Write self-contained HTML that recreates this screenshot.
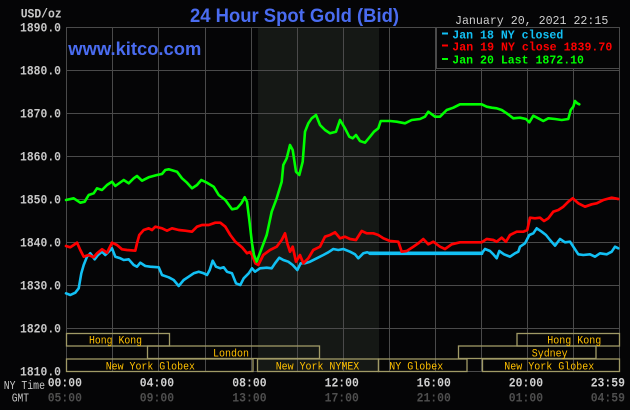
<!DOCTYPE html>
<html><head><meta charset="utf-8"><style>
html,body{margin:0;padding:0;background:#050506;}
svg{display:block;}
.m{font-family:"Liberation Mono",monospace;}
.s{font-family:"Liberation Sans",sans-serif;font-weight:bold;}
</style></head><body>
<svg width="630" height="410" viewBox="0 0 630 410" xmlns="http://www.w3.org/2000/svg">
<rect x="0" y="0" width="630" height="410" fill="#050506"/>
<!-- shaded NYMEX region -->
<rect x="258" y="27" width="121" height="345" fill="#151815"/>
<!-- grid -->
<g fill="#4a4a4a">
<rect x="66" y="27" width="1" height="345"/>
<rect x="112" y="27" width="1" height="345"/>
<rect x="158" y="27" width="1" height="345"/>
<rect x="205" y="27" width="1" height="345"/>
<rect x="251" y="27" width="1" height="345"/>
<rect x="297" y="27" width="1" height="345"/>
<rect x="343" y="27" width="1" height="345"/>
<rect x="389" y="27" width="1" height="345"/>
<rect x="435" y="27" width="1" height="345"/>
<rect x="481" y="27" width="1" height="345"/>
<rect x="527" y="27" width="1" height="345"/>
<rect x="573" y="27" width="1" height="345"/>
<rect x="619" y="27" width="1" height="345"/>
<rect x="66" y="27" width="554" height="1"/>
<rect x="66" y="70" width="554" height="1"/>
<rect x="66" y="113" width="554" height="1"/>
<rect x="66" y="156" width="554" height="1"/>
<rect x="66" y="199" width="554" height="1"/>
<rect x="66" y="242" width="554" height="1"/>
<rect x="66" y="285" width="554" height="1"/>
<rect x="66" y="328" width="554" height="1"/>
<rect x="66" y="371" width="554" height="1"/>
</g>
<!-- session boxes -->
<g fill="none" stroke="#a09a66" stroke-width="1.3">
<rect x="66.5" y="333.5" width="103" height="12.5"/>
<rect x="147.5" y="346" width="172" height="12.5"/>
<rect x="66.5" y="359" width="186.5" height="12.5"/>
<rect x="257.5" y="359" width="121" height="12.5"/>
<rect x="378.5" y="359" width="88.5" height="12.5"/>
<rect x="482.5" y="359" width="137" height="12.5"/>
<rect x="458.5" y="346" width="137.5" height="12.5"/>
<rect x="517" y="333.5" width="102.5" height="12.5"/>
</g>
<g class="m" fill="#ffc000" font-size="11">
<text x="89" y="343.3" textLength="53" lengthAdjust="spacingAndGlyphs">Hong Kong</text>
<text x="213" y="356.3" textLength="36" lengthAdjust="spacingAndGlyphs">London</text>
<text x="105.7" y="369.3" textLength="89.3" lengthAdjust="spacingAndGlyphs">New York Globex</text>
<text x="275.7" y="369.3" textLength="83.6" lengthAdjust="spacingAndGlyphs">New York NYMEX</text>
<text x="389.3" y="369.3" textLength="54" lengthAdjust="spacingAndGlyphs">NY Globex</text>
<text x="504.3" y="369.3" textLength="90" lengthAdjust="spacingAndGlyphs">New York Globex</text>
<text x="531.7" y="356.3" textLength="36" lengthAdjust="spacingAndGlyphs">Sydney</text>
<text x="547.3" y="343.3" textLength="54" lengthAdjust="spacingAndGlyphs">Hong Kong</text>
</g>
<!-- series -->
<g fill="none" stroke-linejoin="round" stroke-linecap="round">
<polyline stroke="#12c0f4" stroke-width="2.6" points="66,293.3 70.3,295 75.3,292.7 78.7,288.3 81.3,273.3 83.7,265 87,256.7 90.3,253.3 94.7,259.3 98,255 102,251.7 105.3,255 108.7,251.7 112,248.3 115.3,256.7 120.3,258.3 123.7,260 128.7,259.3 133.7,265 137,266.7 140.3,262.7 145.3,266 150.3,266.7 158.7,267.3 162,275 168.7,277.3 173.7,280 178.7,286 183.7,280 188.7,276.7 193.7,273.3 198.7,271.7 203.7,273.3 207,275 209.7,270 212.7,260.7 216,266.7 220.3,268.3 223.7,267.3 227,271.7 232,273.3 236,283.3 240.3,285 243.7,278.3 248.7,273.3 252,268.3 255,271.7 260,268.3 266.7,267.7 271.7,268.3 275,263.3 279.3,257.7 283.3,260 288.3,261.7 292.7,265 297.3,270 300.7,263.3 305,263.3 310,261.7 316.7,258.3 323.3,255 328.3,252.3 333.3,249 338.3,250 343.3,249 350,251.7 355,254.3 358.3,258.3 363.3,253.3 367.3,252.3 370,253.3"/>
<polyline stroke="#12c0f4" stroke-width="3.6" points="370,253.3 481.7,253.3"/>
<polyline stroke="#12c0f4" stroke-width="2.6" points="481.7,253.3 485,249 490,251 493.3,254.3 496.7,258.3 499.3,251 504,254.3 510,256.7 515,253.3 518.3,251.7 520,246.7 525,243.3 529.3,235 533.3,233.3 536.7,228.3 541.7,231.7 546,235 550,240 555,245.7 560,239 565,242.3 570,241.7 573.3,246.7 578.3,254.3 583.3,255 590,254.3 595,256.7 600,253.3 606.7,254.3 611.7,251.7 615,246.7 618.3,248.3"/>
<polyline stroke="#ff0000" stroke-width="2.7" points="66,246 70.3,247.3 73.7,245 77,242.7 80.3,250 83.7,256.7 88.7,255 93.7,257.3 97,253.3 102,249.3 107,252.7 112,242.7 117,245 122,249.3 127,250 135.3,250.7 137,243.3 139.3,235 143.7,230 148.7,228.3 152,230 155.3,226.7 162,228.3 167,230.7 172,228.3 178.7,230 185.3,230.7 192,231.7 197,226.7 202,225 208.7,225 215.3,222.7 220.3,222.7 225.3,226.7 230.3,235 235.3,241.7 242,247.3 247,253.3 250,252 252,255 255.3,263.3 258.3,265 263.3,255 270,250 276.7,246.7 281.7,240 285,233.3 287.3,243.3 290,251.7 292.7,246.7 296,261.7 300,255 303.3,263.3 308.3,258.3 313.3,250 320,246.7 325,236.7 330,235 335,232.3 340,238.3 345,236.7 350,239 356,240 361.7,231 366.7,233.3 373.3,233.3 378.3,235 383.3,238.3 390,241 398.3,241.7 401.7,251.7 406.7,251 413.3,246.7 418.3,243.3 423.3,239 428.3,244.3 433.3,241.7 440,246.7 445,249 451.7,244.3 460,242.3 481.7,242.3 486.7,239 493.3,240 496.7,241.7 501.7,237.7 506,241.7 510,235 516.7,231.7 523.3,231.7 527.3,230 530,217.7 535,218.3 540,217.7 544,221 548.3,218.3 553.3,211.7 558.3,210 563.3,206.7 568.3,201.7 572.7,198.3 578.3,203.3 585,206.7 591.7,204.3 596.7,203.3 603.3,200 611.7,197.7 618.3,199"/>
<polyline stroke="#00ff00" stroke-width="2.6" points="66,200 73.7,198.3 80.3,202.7 84.7,201.7 88.7,195 93.7,193.3 97,188.3 102,190 107,185 112,181.7 115.3,186 123.7,180 128.7,183.3 133.7,178.3 137,176 142,180.7 148.7,177.3 157,175 162,174 165.3,170 168.7,169.3 177,171.7 182,178.3 187,182.7 192,188.3 197,185 201.3,180 207,182.7 213.7,186.7 218.7,195 225.3,200 232,209.3 237,208.3 241.3,203.3 244.7,197.3 247,201.7 249.3,220 252,243.3 254,255 256.7,261.7 261.7,248.3 266.7,235 271.7,211.7 276.7,198.3 281.7,181.7 283.3,165 286.7,158.3 290,145 292.7,150 296,171.7 299.3,175 302.7,161.7 305,131.7 308.3,123.3 311.7,118.3 316,115 320,125 325,130 330,133.3 336,131.7 340,120 345,128.3 349.3,136.7 352.7,138.3 356,135 360,141 365,142.7 370,136.7 374,131.7 378.3,128.3 380.7,121 390,121 396.7,121.7 405,123.3 411.7,120 420,119 425,116.7 428.3,111.7 435,116.7 440,116.7 446.7,110 453.3,107.7 460,104.3 481.7,104.3 486.7,106.7 491.7,107.7 496.7,108.3 501.7,110 506.7,113.3 513.3,118.3 520,117.7 526,119 529.3,122.3 533.3,115.7 538.3,118.3 543.3,121 548.3,118.3 555,119 561.7,120 568.3,119 570.7,110 573.3,106.7 575,101 577.3,103.3 579.3,104.3"/>
</g>
<!-- legend -->
<rect x="436.5" y="27.5" width="183" height="41" fill="#050506" stroke="#4a4a4a" stroke-width="1"/>
<g class="m" font-weight="bold" font-size="12">
<rect x="442" y="32.5" width="6" height="2" fill="#12c0f4"/>
<text x="452.3" y="38.5" fill="#12c0f4" textLength="111" lengthAdjust="spacingAndGlyphs">Jan 18 NY closed</text>
<rect x="442" y="44.5" width="6" height="2" fill="#ff0000"/>
<text x="452.3" y="50.5" fill="#ff0000" textLength="160" lengthAdjust="spacingAndGlyphs">Jan 19 NY close 1839.70</text>
<rect x="442" y="58" width="6" height="2" fill="#00ff00"/>
<text x="452.3" y="63.5" fill="#00ff00" textLength="131.7" lengthAdjust="spacingAndGlyphs">Jan 20 Last 1872.10</text>
</g>
<!-- titles -->
<text class="s" x="190" y="22" font-size="19" fill="#4a6cf0" textLength="209" lengthAdjust="spacingAndGlyphs">24 Hour Spot Gold (Bid)</text>
<text class="s" x="68.3" y="55" font-size="18" fill="#4a6cf0" textLength="133" lengthAdjust="spacingAndGlyphs">www.kitco.com</text>
<text class="m" x="455" y="24" font-size="12" fill="#d0d0d0" textLength="153.3" lengthAdjust="spacingAndGlyphs">January 20, 2021 22:15</text>
<!-- y axis labels -->
<g class="m" font-weight="bold" font-size="12.5" fill="#c8c8c8">
<text x="20.7" y="17.3" textLength="41" lengthAdjust="spacingAndGlyphs">USD/oz</text>
<text x="20" y="31.5" textLength="41" lengthAdjust="spacingAndGlyphs">1890.0</text>
<text x="20" y="74.5" textLength="41" lengthAdjust="spacingAndGlyphs">1880.0</text>
<text x="20" y="117.5" textLength="41" lengthAdjust="spacingAndGlyphs">1870.0</text>
<text x="20" y="160.5" textLength="41" lengthAdjust="spacingAndGlyphs">1860.0</text>
<text x="20" y="203.5" textLength="41" lengthAdjust="spacingAndGlyphs">1850.0</text>
<text x="20" y="246.5" textLength="41" lengthAdjust="spacingAndGlyphs">1840.0</text>
<text x="20" y="289.5" textLength="41" lengthAdjust="spacingAndGlyphs">1830.0</text>
<text x="20" y="332.5" textLength="41" lengthAdjust="spacingAndGlyphs">1820.0</text>
<text x="20" y="375.5" textLength="41" lengthAdjust="spacingAndGlyphs">1810.0</text>
</g>
<!-- x axis labels -->
<g class="m" font-size="11.5" fill="#c8c8c8">
<text x="3.7" y="389" textLength="41.3" lengthAdjust="spacingAndGlyphs">NY Time</text>
<text x="11.7" y="401.5" textLength="17.3" lengthAdjust="spacingAndGlyphs">GMT</text>
</g>
<g class="m" font-weight="bold" font-size="12.5" fill="#d0d0d0">
<text x="47.7" y="386.7" textLength="34.3" lengthAdjust="spacingAndGlyphs">00:00</text>
<text x="139.8" y="386.7" textLength="34.3" lengthAdjust="spacingAndGlyphs">04:00</text>
<text x="232.3" y="386.7" textLength="34.3" lengthAdjust="spacingAndGlyphs">08:00</text>
<text x="324.6" y="386.7" textLength="34.3" lengthAdjust="spacingAndGlyphs">12:00</text>
<text x="416.6" y="386.7" textLength="34.3" lengthAdjust="spacingAndGlyphs">16:00</text>
<text x="508.8" y="386.7" textLength="34.3" lengthAdjust="spacingAndGlyphs">20:00</text>
<text x="590.7" y="386.7" textLength="34.3" lengthAdjust="spacingAndGlyphs">23:59</text>
</g>
<g class="m" font-weight="bold" font-size="12.5" fill="#4e4e4e">
<text x="47.7" y="401.7" textLength="34.3" lengthAdjust="spacingAndGlyphs">05:00</text>
<text x="139.8" y="401.7" textLength="34.3" lengthAdjust="spacingAndGlyphs">09:00</text>
<text x="232.3" y="401.7" textLength="34.3" lengthAdjust="spacingAndGlyphs">13:00</text>
<text x="324.6" y="401.7" textLength="34.3" lengthAdjust="spacingAndGlyphs">17:00</text>
<text x="416.6" y="401.7" textLength="34.3" lengthAdjust="spacingAndGlyphs">21:00</text>
<text x="508.8" y="401.7" textLength="34.3" lengthAdjust="spacingAndGlyphs">01:00</text>
<text x="590.7" y="401.7" textLength="34.3" lengthAdjust="spacingAndGlyphs">04:59</text>
</g>
</svg>
</body></html>
